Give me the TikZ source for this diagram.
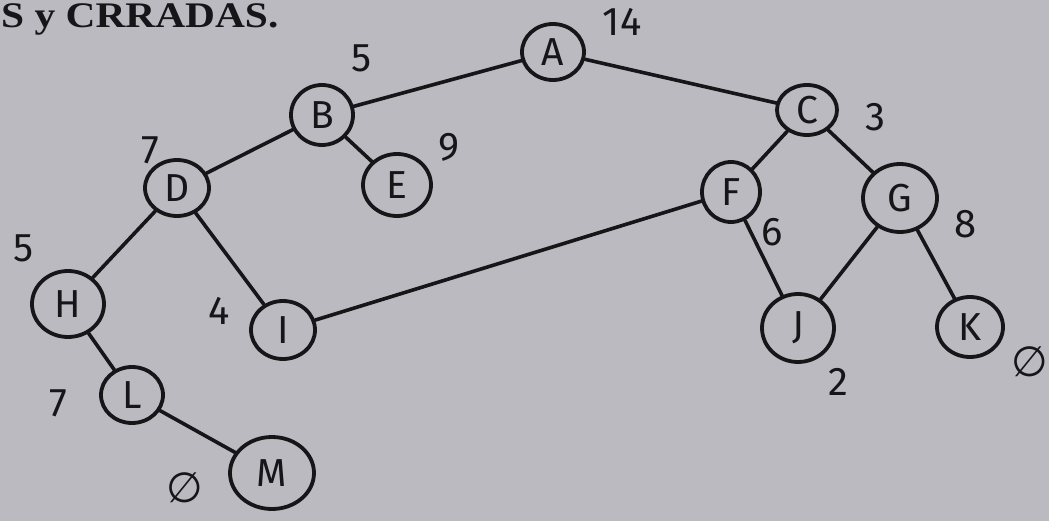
\documentclass[tikz,border=0pt]{standalone}
\usepackage{fontspec}
\setmainfont{Liberation Serif}
\newfontfamily\handfont{Fira Sans}
\newfontfamily\symfont{DejaVu Sans}
\usetikzlibrary{shapes.geometric}
\definecolor{paper}{RGB}{186,186,192}
\definecolor{ink}{RGB}{22,22,24}
\begin{document}
\begin{tikzpicture}[x=1pt,y=-1pt,
  vert/.style={draw=ink, line width=3.8pt, ellipse, inner sep=0pt, text=ink, font=\handfont\fontsize{39}{39}\selectfont},
  edge/.style={draw=ink, line width=3.6pt, line cap=round},
  num/.style={text=ink, font=\handfont\fontsize{40}{40}\selectfont, inner sep=0pt},
  empt/.style={text=ink, font=\symfont\fontsize{42}{42}\selectfont, inner sep=0pt}]
\fill[paper] (0,0) rectangle (1049,521);
\useasboundingbox (0,0) rectangle (1049,521);
% heading
\node[anchor=base west, inner sep=0pt, text=ink, font=\bfseries\fontsize{36}{36}\selectfont, xscale=1.15] (title) at (1,28) {S y CRRADAS.};
% vertices
\node[vert, minimum width=62pt, minimum height=56pt] (A) at (553,52) {A};
\node[vert, minimum width=62pt, minimum height=60pt] (B) at (322,115) {B};
\node[vert, minimum width=60pt, minimum height=50pt] (C) at (807,110) {C};
\node[vert, minimum width=64pt, minimum height=56pt] (D) at (177,188) {D};
\node[vert, minimum width=68pt, minimum height=62pt] (E) at (397,185) {E};
\node[vert, minimum width=58pt, minimum height=60pt] (F) at (731,192) {F};
\node[vert, minimum width=74pt, minimum height=68pt] (G) at (900,198) {G};
\node[vert, minimum width=72pt, minimum height=66pt] (H) at (68,304) {H};
\node[vert, minimum width=64pt, minimum height=58pt] (I) at (283,330) {I};
\node[vert, minimum width=72pt, minimum height=68pt] (J) at (798,328) {J};
\node[vert, minimum width=66pt, minimum height=60pt] (K) at (970,327) {K};
\node[vert, minimum width=62pt, minimum height=56pt] (L) at (132,395) {L};
\node[vert, minimum width=84pt, minimum height=72pt] (M) at (272,473) {M};
% edges
\draw[edge] (A) -- (B);
\draw[edge] (A) -- (C);
\draw[edge] (B) -- (D);
\draw[edge] (B) -- (E);
\draw[edge] (C) -- (F);
\draw[edge] (C) -- (G);
\draw[edge] (D) -- (H);
\draw[edge] (D) -- (I);
\draw[edge] (I) -- (F);
\draw[edge] (F) -- (J);
\draw[edge] (G) -- (J);
\draw[edge] (G) -- (K);
\draw[edge] (H) -- (L);
\draw[edge] (L) -- (M);
% numbers
\node[num] (nA) at (622,22) {14};
\node[num] (nB) at (362,58) {5};
\node[num] (nC) at (875,117) {3};
\node[num] (nD) at (150,150) {7};
\node[num] (nE) at (449,147) {9};
\node[num] (nF) at (772,232) {6};
\node[num] (nG) at (966,224) {8};
\node[num] (nH) at (24,248) {5};
\node[num] (nI) at (219,311) {4};
\node[num] (nJ) at (838,382) {2};
\node[empt] (nK) at (1030,362) {∅};
\node[num] (nL) at (58,403) {7};
\node[empt] (nM) at (185,488) {∅};
\end{tikzpicture}
\end{document}
